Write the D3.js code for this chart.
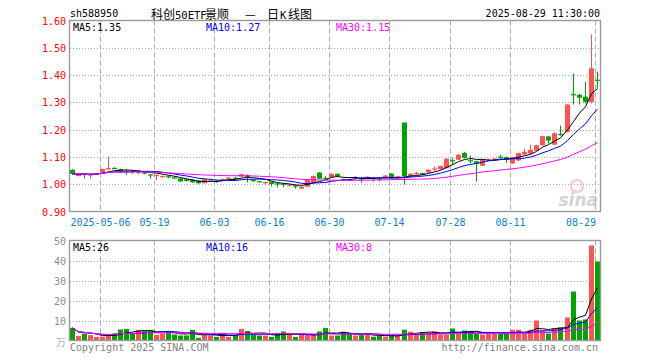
<!DOCTYPE html>
<html><head><meta charset="utf-8">
<script src="https://cdn.jsdelivr.net/npm/d3@7"></script>
<style>body{margin:0;background:#fff} svg{display:block}</style>
</head><body>
<svg id="c" width="660" height="360"></svg>
<script>
const dates = ["04-24","04-25","04-28","04-29","04-30","05-06","05-07","05-08","05-09","05-12","05-13","05-14","05-15","05-16","05-19","05-20","05-21","05-22","05-23","05-26","05-27","05-28","05-29","05-30","06-03","06-04","06-05","06-06","06-09","06-10","06-11","06-12","06-13","06-16","06-17","06-18","06-19","06-20","06-23","06-24","06-25","06-26","06-27","06-30","07-01","07-02","07-03","07-04","07-07","07-08","07-09","07-10","07-11","07-14","07-15","07-16","07-17","07-18","07-21","07-22","07-23","07-24","07-25","07-28","07-29","07-30","07-31","08-01","08-04","08-05","08-06","08-07","08-08","08-11","08-12","08-13","08-14","08-15","08-18","08-19","08-20","08-21","08-22","08-25","08-26","08-27","08-28","08-29"];
const open  = [1.053,1.030,1.038,1.033,1.036,1.044,1.057,1.060,1.055,1.050,1.048,1.041,1.044,1.036,1.030,1.027,1.029,1.025,1.021,1.018,1.017,1.013,1.004,1.010,1.012,1.012,1.022,1.024,1.028,1.034,1.016,1.011,1.005,1.008,1.003,1.002,0.994,0.996,0.984,0.991,1.004,1.043,1.023,1.026,1.038,1.018,1.018,1.022,1.021,1.019,1.023,1.021,1.021,1.039,1.022,1.226,1.028,1.039,1.041,1.043,1.057,1.055,1.059,1.088,1.090,1.115,1.088,1.084,1.068,1.089,1.089,1.101,1.099,1.076,1.087,1.109,1.112,1.123,1.143,1.175,1.145,1.184,1.192,1.330,1.328,1.321,1.302,1.383];
const high  = [1.056,1.039,1.040,1.038,1.041,1.057,1.101,1.062,1.057,1.052,1.052,1.051,1.046,1.038,1.036,1.033,1.031,1.028,1.023,1.020,1.019,1.015,1.020,1.016,1.014,1.021,1.027,1.027,1.038,1.036,1.018,1.013,1.010,1.010,1.005,1.004,1.001,0.998,0.993,1.018,1.032,1.045,1.030,1.040,1.040,1.021,1.020,1.030,1.027,1.029,1.025,1.023,1.033,1.041,1.031,1.226,1.040,1.046,1.043,1.055,1.066,1.068,1.096,1.097,1.111,1.118,1.105,1.086,1.092,1.094,1.096,1.108,1.101,1.101,1.116,1.131,1.145,1.145,1.178,1.177,1.190,1.215,1.294,1.406,1.331,1.375,1.549,1.412];
const low   = [1.034,1.028,1.021,1.019,1.034,1.042,1.052,1.054,1.043,1.035,1.038,1.036,1.037,1.021,1.015,1.024,1.022,1.019,1.008,1.010,1.005,1.000,1.002,1.007,1.005,1.010,1.013,1.018,1.026,1.006,1.009,1.006,0.997,0.992,0.988,0.989,0.991,0.984,0.982,0.989,1.002,1.018,1.018,1.024,1.026,1.014,1.013,1.016,1.005,1.017,1.010,1.010,1.019,1.020,1.020,0.999,1.026,1.034,1.033,1.041,1.048,1.053,1.057,1.072,1.088,1.094,1.077,1.009,1.066,1.086,1.087,1.094,1.078,1.074,1.085,1.107,1.110,1.121,1.141,1.149,1.143,1.178,1.190,1.292,1.292,1.296,1.296,1.351];
const close = [1.038,1.037,1.036,1.036,1.039,1.056,1.059,1.058,1.045,1.045,1.047,1.049,1.039,1.034,1.034,1.030,1.027,1.021,1.010,1.012,1.007,1.004,1.018,1.013,1.010,1.019,1.024,1.022,1.037,1.025,1.011,1.010,1.008,1.001,0.999,0.998,0.999,0.991,0.991,1.016,1.030,1.020,1.022,1.038,1.030,1.016,1.015,1.025,1.020,1.027,1.022,1.019,1.032,1.021,1.029,1.030,1.038,1.041,1.036,1.053,1.058,1.067,1.093,1.087,1.108,1.097,1.087,1.075,1.090,1.091,1.094,1.100,1.089,1.099,1.114,1.119,1.126,1.143,1.176,1.160,1.187,1.182,1.292,1.327,1.317,1.302,1.425,1.380];
const volume = [6.3,2.3,3.5,2.7,1.8,1.8,2.7,3.5,5.5,5.8,3.5,5.3,4.8,5.3,2.8,3.5,4.8,3.0,2.5,2.5,5.3,1.3,2.7,2.5,1.8,3.8,1.8,2.8,5.8,4.8,2.8,2.5,2.5,1.8,3.8,4.5,3.5,1.8,3.0,2.7,2.7,4.5,6.3,2.5,2.5,4.4,3.2,2.5,2.7,3.2,1.9,2.5,1.9,2.5,2.5,5.4,4.4,3.2,4.2,4.0,4.6,3.0,3.0,6.0,3.6,5.0,4.8,3.6,3.0,3.6,3.6,3.2,3.2,5.4,5.4,3.6,5.4,10.0,5.0,3.5,6.0,6.5,11.5,24.5,10.0,10.5,47.5,39.5];
const priceTicks = [0.90,1.00,1.10,1.20,1.30,1.40,1.50,1.60];
const volTicks = [10,20,30,40,50];
const dateTicks = ["05-06","05-19","06-03","06-16","06-30","07-14","07-28","08-11","08-29"];
const dateTickLabels = ["2025-05-06","05-19","06-03","06-16","06-30","07-14","07-28","08-11","08-29"];
const titleParts = [["科创","cjk",151],["50ETF","mono",175],["景顺","cjk",205],["—","cjk",245],["日","cjk",267],["K","mono",280],["线图","cjk",288]];

const RED = "#ff5252", GREEN = "#00a400", GRID = "#aaaaaa", FRAME = "#999999";
const MONO = "'DejaVu Sans Mono','Liberation Mono',monospace";
const CJK = "'Noto Sans CJK SC',sans-serif";
const svg = d3.select("#c");
const L = 70, R = 600;
const pTop = 20.5, pBot = 211.5, vTop = 240.5, vBot = 340.5;

const x = d3.scaleBand().domain(dates).range([68.5, 599.7]).paddingInner(0);
const bw = x.bandwidth();
const cx = d => Math.round(x(d) + bw / 2);
const y = d3.scaleLinear().domain([0.9, 1.6]).range([pBot, pTop]);
const yv = d3.scaleLinear().domain([0, 50]).range([vBot, vTop]);

function ma(arr, n) {
  return arr.map((_, i) => d3.mean(arr.slice(Math.max(0, i - n + 1), i + 1)));
}
const idx = d3.range(dates.length);

// grids
function grids(yscale, ticks, top, bot) {
  const g = svg.append("g");
  g.selectAll(".h").data(ticks).join("line")
    .attr("x1", L).attr("x2", R)
    .attr("y1", d => Math.round(yscale(d)) + 0.5).attr("y2", d => Math.round(yscale(d)) + 0.5)
    .attr("stroke", GRID).attr("stroke-dasharray", "1,2");
  g.selectAll(".v").data(dateTicks).join("line")
    .attr("x1", d => cx(d) - 1.5).attr("x2", d => cx(d) - 1.5)
    .attr("y1", top).attr("y2", bot)
    .attr("stroke", GRID).attr("stroke-dasharray", "5,3");
}
grids(y, priceTicks.filter(t => t > 0.9 && t < 1.6), pTop, pBot);
grids(yv, volTicks.filter(t => t < 50), vTop, vBot);

// watermark
const wm = svg.append("g").attr("opacity", 0.6);
wm.append("circle").attr("cx", 577).attr("cy", 186).attr("r", 6).attr("fill", "none").attr("stroke", "#f2b0b0").attr("stroke-width", 2.5);
wm.append("text").attr("x", 598).attr("y", 206).attr("text-anchor", "end")
  .attr("font-family", "'DejaVu Sans',sans-serif").attr("font-size", 17).attr("font-weight", "bold").attr("font-style", "italic")
  .attr("fill", "#b5b5b5").text("sina");

// candles
const up = i => close[i] >= open[i];
const cg = svg.append("g");
cg.selectAll("line").data(idx).join("line")
  .attr("x1", i => cx(dates[i]) + 0.5).attr("x2", i => cx(dates[i]) + 0.5)
  .attr("y1", i => y(high[i])).attr("y2", i => y(low[i]))
  .attr("stroke", i => up(i) ? RED : GREEN).attr("stroke-width", 1);
cg.selectAll("rect").data(idx).join("rect")
  .attr("x", i => cx(dates[i]) - 2).attr("width", 5)
  .attr("y", i => y(Math.max(open[i], close[i])))
  .attr("height", i => Math.max(1.2, Math.abs(y(open[i]) - y(close[i]))))
  .attr("fill", i => up(i) ? RED : GREEN);

// volume bars
svg.append("g").selectAll("rect").data(idx).join("rect")
  .attr("x", i => cx(dates[i]) - 2).attr("width", 5)
  .attr("y", i => yv(volume[i])).attr("height", i => vBot - yv(volume[i]))
  .attr("fill", i => up(i) ? RED : GREEN);

// MA lines
const maDefs = [[5, "#000000"], [10, "#0000ff"], [30, "#ff00ff"]];
maDefs.forEach(([n, col]) => {
  const mp = ma(close, n), mv = ma(volume, n);
  svg.append("path").attr("d", d3.line().x(i => cx(dates[i]) + 0.5).y(i => y(mp[i]))(idx))
    .attr("fill", "none").attr("stroke", col).attr("stroke-width", 1);
  svg.append("path").attr("d", d3.line().x(i => cx(dates[i]) + 0.5).y(i => yv(mv[i]))(idx))
    .attr("fill", "none").attr("stroke", col).attr("stroke-width", 1);
});

// frames
[[pTop, pBot], [vTop, vBot]].forEach(([t, b]) => {
  svg.append("rect").attr("x", L - 0.5).attr("y", t).attr("width", R - L + 1).attr("height", b - t)
    .attr("fill", "none").attr("stroke", FRAME).attr("stroke-width", 1.4);
});

// axes labels
const txt = (xx, yy, s, col, anchor, size) => svg.append("text").attr("x", xx).attr("y", yy)
  .attr("text-anchor", anchor || "start").attr("font-family", MONO).attr("font-size", size || 10)
  .attr("fill", col).attr("dy", "0.35em").text(s);

priceTicks.forEach(t => txt(66, y(t) + 0.5, t.toFixed(2), "#ff0000", "end"));
volTicks.forEach(t => txt(66, yv(t) + 0.5, String(t), "#8c8c8c", "end"));
svg.append("text").attr("x", 66).attr("y", 342).attr("dy", "0.35em").attr("text-anchor", "end")
  .attr("font-family", CJK).attr("font-size", 10).attr("fill", "#b0b0b0").text("万");

dateTicks.forEach((d, k) => {
  const last = k === dateTicks.length - 1;
  txt(last ? cx(d) - 1 : cx(d) - 1.5, 222, dateTickLabels[k], "#0a7fd6", last ? "end" : "middle");
});

// header
txt(70, 13, "sh588950", "#000");
txt(600, 13, "2025-08-29 11:30:00", "#000", "end");
const title = svg.append("text").attr("y", 13).attr("dy", "0.35em").attr("fill", "#000");
titleParts.forEach(([s, f, xx]) => {
  title.append("tspan").attr("x", xx)
    .attr("font-family", f === "cjk" ? CJK : MONO)
    .attr("font-size", f === "cjk" ? 12 : 10.5).text(s);
});

// legends
const f2 = v => v.toFixed(2);
const lastI = dates.length - 1;
const legP = [["MA5:" + f2(ma(close,5)[lastI]), "#000", 73], ["MA10:" + f2(ma(close,10)[lastI]), "#0000ff", 206], ["MA30:" + f2(ma(close,30)[lastI]), "#ff00ff", 336]];
legP.forEach(([s, c, xx]) => txt(xx, 27, s, c));
const legV = [["MA5:" + Math.round(ma(volume,5)[lastI]), "#000", 73], ["MA10:" + Math.round(ma(volume,10)[lastI]), "#0000ff", 206], ["MA30:" + Math.round(ma(volume,30)[lastI]), "#ff00ff", 336]];
legV.forEach(([s, c, xx]) => txt(xx, 247, s, c));

// footer
txt(70, 347, "Copyright 2025 SINA.COM", "#808080");
txt(598, 347, "http://finance.sina.com.cn", "#808080", "end");
</script>
</body></html>
